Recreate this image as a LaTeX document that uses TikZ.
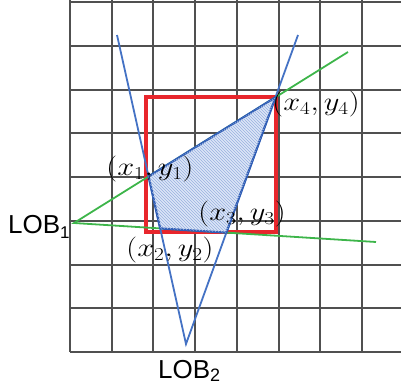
\documentclass[tikz,border=0pt]{standalone}
\usepackage{fix-cm}
\usepackage{fontspec}
\setsansfont{Liberation Sans}
\usetikzlibrary{patterns}
\definecolor{gridc}{HTML}{505050}
\definecolor{boxred}{HTML}{E8262C}
\definecolor{lobblue}{HTML}{4472C4}
\definecolor{lobgreen}{HTML}{3DB54A}
\definecolor{quadfill}{HTML}{DCE6F7}
\definecolor{quadedge}{HTML}{2F5DB5}
\newcommand{\ptxt}[1]{\scalebox{1.17}[1]{$#1$}}
\begin{document}
\begin{tikzpicture}[x=1pt,y=-1pt,
  gridline/.style={draw=gridc,line width=2pt},
  redbox/.style={draw=boxred,line width=3.5pt},
  blueline/.style={draw=lobblue,line width=1.8pt},
  greenline/.style={draw=lobgreen,line width=1.8pt},
  quad/.style={fill=quadfill,postaction={pattern=north west lines,pattern color=lobblue!55},draw=quadedge,line width=2.2pt,line join=round},
  ptlabel/.style={inner sep=0pt,anchor=center,font=\fontsize{26}{30}\selectfont},
  loblabel/.style={inner sep=0pt,anchor=base west,font=\sffamily\fontsize{26}{30}\selectfont}]
\useasboundingbox (0,0) rectangle (401,388);
% grid
\foreach \i in {0,...,7} \draw[gridline] ({70+41.7*\i},0) -- ({70+41.7*\i},352);
\foreach \j in {0,...,8} \draw[gridline] (70,{2+43.75*\j}) -- (401,{2+43.75*\j});
% red box
\draw[redbox] (146,97) rectangle (276,232);
% line-of-bearing coordinates
\coordinate (L1) at (74,223);
\coordinate (G1) at (348,52);
\coordinate (G2) at (376,242);
\coordinate (L2) at (186,344);
\coordinate (B1) at (117,35);
\coordinate (B2) at (298,35);
\draw[greenline] (G1) -- (L1) -- (G2);
\draw[blueline] (B1) -- (L2) -- (B2);
% intersection points
\coordinate (P1) at (intersection of L2--B1 and L1--G1);
\coordinate (P2) at (intersection of L2--B1 and L1--G2);
\coordinate (P3) at (intersection of L2--B2 and L1--G2);
\coordinate (P4) at (intersection of L2--B2 and L1--G1);
\draw[quad] (P1) -- (P2) -- (P3) -- (P4) -- cycle;
% labels
\node[ptlabel] (t1) at (150,169) {\ptxt{(x_1,y_1)}};
\node[ptlabel] (t2) at (170,250) {\ptxt{(x_2,y_2)}};
\node[ptlabel] (t3) at (242,214) {\ptxt{(x_3,y_3)}};
\node[ptlabel] (t4) at (316,104) {\ptxt{(x_4,y_4)}};
\node[loblabel] (lob1) at (8,233) {LOB\raisebox{-5pt}{\fontsize{17}{20}\selectfont 1}};
\node[loblabel] (lob2) at (158,378) {LOB\raisebox{-3pt}{\fontsize{18}{20}\selectfont 2}};
\end{tikzpicture}
\end{document}
